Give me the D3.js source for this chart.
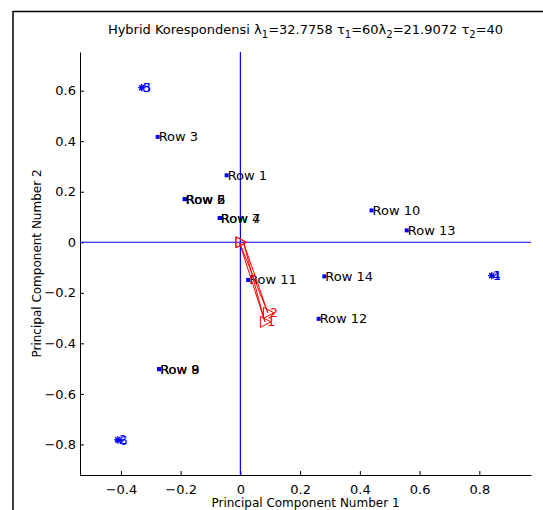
<!DOCTYPE html>
<html>
<head>
<meta charset="utf-8">
<script src="https://cdn.jsdelivr.net/npm/d3@7"></script>
<style>
  body { margin: 0; background: #fff; }
  svg text { font-family: "DejaVu Sans", Verdana, sans-serif; }
</style>
</head>
<body>
<svg id="chart"></svg>
<script>
// row points (several rows sit on the same spot)
const rowLabels = ["Row 1", "Row 2", "Row 3", "Row 4", "Row 5", "Row 6", "Row 7",
  "Row 8", "Row 9", "Row 10", "Row 11", "Row 12", "Row 13", "Row 14"];
const rowX = [-0.046, -0.186, -0.277, -0.069, -0.186, -0.186, -0.069,
  -0.272, -0.272, 0.439, 0.026, 0.262, 0.557, 0.281];
const rowY = [0.265, 0.171, 0.417, 0.096, 0.171, 0.171, 0.096,
  -0.502, -0.502, 0.126, -0.149, -0.303, 0.047, -0.135];

// column points
const colLabels = ["1", "2", "3", "4", "5", "6"];
const colX = [0.842, -0.411, -0.331, 0.841, -0.329, -0.409];
const colY = [-0.131, -0.781, 0.612, -0.133, 0.611, -0.784];

// constraint vectors
const vecLabels = ["1", "2"];
const vecX = [0.082, 0.092];
const vecY = [-0.315, -0.279];

const xTicks = [-0.4, -0.2, 0, 0.2, 0.4, 0.6, 0.8];
const yTicks = [-0.8, -0.6, -0.4, -0.2, 0, 0.2, 0.4, 0.6];

const width = 543, height = 510;
const margin = { top: 52, right: 12, bottom: 35, left: 80 };

const svg = d3.select("#chart").attr("width", width).attr("height", height);

// outer figure frame
svg.append("path")
  .attr("d", `M13,${height + 5}V11.5H${width + 5}`)
  .attr("fill", "none").attr("stroke", "#000").attr("stroke-width", 1.5);

const xScale = d3.scaleLinear().domain([-0.537, 0.973])
  .range([margin.left, width - margin.right]);
const yScale = d3.scaleLinear().domain([-0.921, 0.753])
  .range([height - margin.bottom, margin.top]);

const fmt = (d) => (d === 0 ? "0" : d3.format(".1f")(d));

// X axis
const xAxis = svg.append("g")
  .attr("transform", `translate(0, ${height - margin.bottom})`)
  .call(d3.axisBottom(xScale).tickValues(xTicks).tickSizeInner(-4).tickSizeOuter(0).tickFormat(fmt));
xAxis.selectAll("text").attr("y", 7).attr("dy", "0.9em")
  .attr("font-size", 13).attr("fill", "#000");

// Y axis
const yAxis = svg.append("g")
  .attr("transform", `translate(${margin.left}, 0)`)
  .call(d3.axisLeft(yScale).tickValues(yTicks).tickSizeInner(-4).tickSizeOuter(0).tickFormat(fmt));
yAxis.selectAll("text").attr("x", -4).attr("font-size", 13).attr("fill", "#000");
svg.selectAll(".domain").attr("stroke", "#000");
svg.selectAll(".tick line").attr("stroke", "#000");

// zero lines
svg.append("line")
  .attr("x1", xScale(0)).attr("x2", xScale(0))
  .attr("y1", yScale.range()[1]).attr("y2", yScale.range()[0])
  .attr("stroke", "#0000ff").attr("stroke-width", 1.2);
svg.append("line")
  .attr("x1", xScale.range()[0]).attr("x2", xScale.range()[1])
  .attr("y1", yScale(0)).attr("y2", yScale(0))
  .attr("stroke", "#0000ff").attr("stroke-width", 1.2);

// row points
const rows = rowLabels.map((label, i) => ({ label, x: rowX[i], y: rowY[i] }));
svg.selectAll(".rowdot").data(rows).join("rect")
  .attr("class", "rowdot")
  .attr("x", (d) => xScale(d.x) - 2).attr("y", (d) => yScale(d.y) - 2)
  .attr("width", 4).attr("height", 4).attr("fill", "#0000ff");
svg.selectAll(".rowlabel").data(rows).join("text")
  .attr("class", "rowlabel")
  .attr("x", (d) => xScale(d.x) + 1).attr("y", (d) => yScale(d.y))
  .attr("dy", "0.35em").attr("font-size", 13).attr("fill", "#000")
  .text((d) => d.label);

// column points: star marker + label
const cols = colLabels.map((label, i) => ({ label, x: colX[i], y: colY[i] }));
cols.forEach((d) => {
  const cx = xScale(d.x), cy = yScale(d.y);
  const g = svg.append("g").attr("transform", `translate(${cx},${cy})`)
    .attr("stroke", "#0000ff").attr("stroke-width", 1);
  [0, 45, 90, 135].forEach((a) => {
    g.append("line").attr("x1", -3.5).attr("x2", 3.5)
      .attr("transform", `rotate(${a})`);
  });
  svg.append("text").attr("x", cx + 1).attr("y", cy)
    .attr("dy", "0.35em").attr("font-size", 13).attr("fill", "#0000ff")
    .text(d.label);
});

// vectors: thin wedge from origin with '>' markers at both ends
const tri = (cx, cy) => `M${cx - 4.5},${cy - 5.5}L${cx + 6},${cy}L${cx - 4.5},${cy + 5.5}Z`;
const vecs = vecLabels.map((label, i) => ({ label, x: vecX[i], y: vecY[i] }));
vecs.forEach((d) => {
  const x0 = xScale(0), y0 = yScale(0), x1 = xScale(d.x), y1 = yScale(d.y);
  svg.append("path")
    .attr("d", `M${x0 - 1},${y0}L${x1},${y1}L${x0 + 3},${y0}`)
    .attr("fill", "none").attr("stroke", "#ff0000").attr("stroke-width", 1);
  svg.append("path").attr("d", tri(x1, y1))
    .attr("fill", "none").attr("stroke", "#ff0000").attr("stroke-width", 1);
  svg.append("path").attr("d", tri(x0, y0))
    .attr("fill", "none").attr("stroke", "#ff0000").attr("stroke-width", 1);
  svg.append("text").attr("x", x1 + 2).attr("y", y1)
    .attr("dy", "0.35em").attr("font-size", 13).attr("fill", "#ff0000")
    .text(d.label);
});

// title
const title = svg.append("text")
  .attr("x", (xScale.range()[0] + xScale.range()[1]) / 2).attr("y", 34)
  .attr("text-anchor", "middle").attr("font-size", 13).attr("fill", "#000");
const parts = [["Hybrid Korespondensi λ", 0], ["1", 1], ["=32.7758 τ", 0], ["1", 1],
  ["=60λ", 0], ["2", 1], ["=21.9072 τ", 0], ["2", 1], ["=40", 0]];
parts.forEach(([t, sub], i) => {
  const ts = title.append("tspan").text(t);
  if (sub) ts.attr("font-size", 10).attr("dy", 4);
  else if (i > 0) ts.attr("dy", -4);
});

// axis labels
svg.append("text")
  .attr("x", (xScale.range()[0] + xScale.range()[1]) / 2).attr("y", 507)
  .attr("text-anchor", "middle").attr("font-size", 12).attr("fill", "#000")
  .text("Principal Component Number 1");
svg.append("text")
  .attr("transform", `translate(41, ${(yScale.range()[0] + yScale.range()[1]) / 2}) rotate(-90)`)
  .attr("text-anchor", "middle").attr("font-size", 12).attr("fill", "#000")
  .text("Principal Component Number 2");
</script>
</body>
</html>
